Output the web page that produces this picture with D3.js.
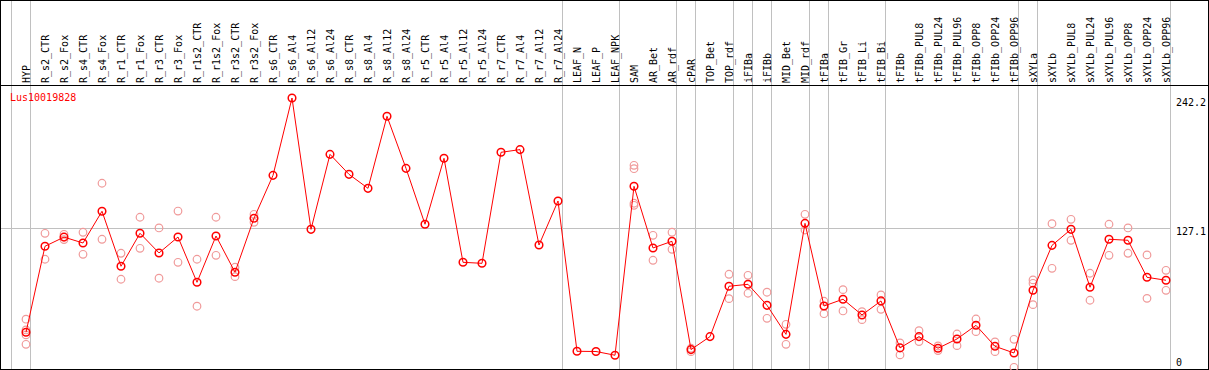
<!doctype html>
<html lang="en">
<head>
<meta charset="UTF-8">
<title>Lus10019828</title>
<script src="https://cdn.jsdelivr.net/npm/d3@7/dist/d3.min.js"></script>
<style>
  body { margin: 0; background: #fff; }
  text { font-family: "DejaVu Sans Mono", monospace; font-size: 10px; }
</style>
</head>
<body>
<script>
  var width = 1209, height = 370;
  var geneName = "Lus10019828";

  // sample names, left to right
  var categories = ["HYP","R_s2_CTR","R_s2_Fox","R_s4_CTR","R_s4_Fox","R_r1_CTR","R_r1_Fox",
    "R_r3_CTR","R_r3_Fox","R_r1s2_CTR","R_r1s2_Fox","R_r3s2_CTR","R_r3s2_Fox","R_s6_CTR",
    "R_s6_Al4","R_s6_Al12","R_s6_Al24","R_s8_CTR","R_s8_Al4","R_s8_Al12","R_s8_Al24",
    "R_r5_CTR","R_r5_Al4","R_r5_Al12","R_r5_Al24","R_r7_CTR","R_r7_Al4","R_r7_Al12","R_r7_Al24",
    "LEAF_N","LEAF_P","LEAF_NPK","SAM","AR_Bet","AR_rdf","cPAR","TOP_Bet","TOP_rdf",
    "iFIBa","iFIBb","MID_Bet","MID_rdf","tFIBa","tFIB_Gr","tFIB_Li","tFIB_Bi","tFIBb",
    "tFIBb_PUL8","tFIBb_PUL24","tFIBb_PUL96","tFIBb_OPP8","tFIBb_OPP24","tFIBb_OPP96",
    "sXYLa","sXYLb","sXYLb_PUL8","sXYLb_PUL24","sXYLb_PUL96","sXYLb_OPP8","sXYLb_OPP24","sXYLb_OPP96"];

  // mean expression per sample
  var means = [34.7,110.9,119.0,113.8,141.9,93.2,122.4,105.0,119.1,79.0,120.0,87.9,135.7,173.7,
    242.2,125.9,192.3,174.6,162.2,226.0,179.9,130.4,188.8,96.7,95.8,194.1,196.5,112.0,151.0,
    17.9,17.7,14.4,164.0,109.4,115.3,19.4,30.9,75.5,77.2,58.6,32.9,131.2,58.0,64.0,50.1,62.5,
    20.9,30.9,20.6,28.8,40.9,22.3,16.4,71.9,111.7,125.9,74.6,117.1,116.2,83.4,80.8];

  // individual replicates (empty where only one value)
  var replicates = [
    [46.3,36.8,32.4,24.1],[122.4,99.4],[121.5,116.8],[123.3,103.8],[166.7,117.1],[104.7,81.7],
    [136.6,109.1],[127.1,82.6],[142.1,96.7],[99.4,57.8],[136.6,102.9],[92.3,84.0],[139.2,132.1],
    [],[],[],[],[],[],[],[],[],[],[],[],[],[],[],[],[],[],[],
    [182.6,179.6,149.0,147.2],[120.6,98.5],[123.3,108.2],[20.6,17.6],[],[86.1,64.5],
    [85.2,69.3],[70.2,47.1],[41.8,24.1],[139.2,125.3],[62.2,51.2],[72.5,53.6],[53.0,45.9],
    [67.8,55.1],[25.3,14.7],[36.2,26.5],[22.6,18.5],[33.2,22.9],[46.5,35.3],[26.2,17.6],
    [28.5,3.7],[81.1,78.1,59.2],[130.9,91.4],[134.8,116.2],[87.0,63.1],[130.4,102.9],
    [127.1,104.7],[103.2,64.8],[89.6,71.9]];

  // group separators: index of the last sample in each group
  var groupEnds = [0,28,31,34,35,37,38,39,41,42,45,52,53,60];
  var yTicks = [0, 127.1, 242.2];

  var svg = d3.select("body").append("svg")
      .attr("width", width)
      .attr("height", height);

  var x = d3.scaleBand().domain(categories).range([11, 1170]);
  var px = function(c) { return x(c) + 15; };
  var y = d3.scaleLinear().domain([0, 242.2]).range([371.5, 98]);

  // grid
  var grid = svg.append("g").attr("shape-rendering", "crispEdges").attr("stroke", "#c0c0c0");
  grid.append("line").attr("x1", x(categories[0]) + 0.5).attr("x2", x(categories[0]) + 0.5)
      .attr("y1", 0).attr("y2", height);
  grid.selectAll(".sep").data(groupEnds).enter().append("line")
      .attr("x1", function(i) { return x(categories[i]) + x.step() + 0.5; })
      .attr("x2", function(i) { return x(categories[i]) + x.step() + 0.5; })
      .attr("y1", 0).attr("y2", height);
  grid.append("line").attr("x1", 0).attr("x2", 1170)
      .attr("y1", Math.round(y(127.1)) + 0.5).attr("y2", Math.round(y(127.1)) + 0.5);

  // frame + header line
  svg.append("rect").attr("x", 0.5).attr("y", 0.5).attr("width", 1208).attr("height", 369)
      .attr("fill", "none").attr("stroke", "#000").attr("shape-rendering", "crispEdges");
  svg.append("line").attr("x1", 0).attr("x2", width).attr("y1", 85.5).attr("y2", 85.5)
      .attr("stroke", "#000").attr("shape-rendering", "crispEdges");

  // sample labels
  svg.selectAll(".lab").data(categories).enter().append("text")
      .attr("transform", function(c) { return "translate(" + (px(c) + 4) + ",83) rotate(-90)"; })
      .attr("fill", "#000")
      .text(function(c) { return c; });

  // y labels
  svg.selectAll(".ylab").data(yTicks).enter().append("text")
      .attr("x", 1176)
      .attr("y", function(v) { return Math.min(y(v), 358) + 7.5; })
      .attr("fill", "#000")
      .text(function(v) { return v; });

  svg.append("text").attr("x", 10).attr("y", 101).attr("fill", "red").text(geneName);

  // replicates
  var reps = [];
  replicates.forEach(function(r, i) {
    r.forEach(function(v) { reps.push({c: categories[i], v: v}); });
  });
  svg.selectAll(".rep").data(reps).enter().append("circle")
      .attr("cx", function(d) { return px(d.c); })
      .attr("cy", function(d) { return y(d.v); })
      .attr("r", 3.8)
      .attr("fill", "none")
      .attr("stroke", "#f09a9a")
      .attr("stroke-width", 1.2);

  // mean line
  var line = d3.line()
      .x(function(d, i) { return px(categories[i]); })
      .y(function(d) { return y(d); });
  svg.append("path").datum(means)
      .attr("d", line)
      .attr("fill", "none")
      .attr("stroke", "red")
      .attr("stroke-width", 1);

  svg.selectAll(".mean").data(means).enter().append("circle")
      .attr("cx", function(d, i) { return px(categories[i]); })
      .attr("cy", function(d) { return y(d); })
      .attr("r", 3.8)
      .attr("fill", "none")
      .attr("stroke", "red")
      .attr("stroke-width", 1.5);
</script>
</body>
</html>
